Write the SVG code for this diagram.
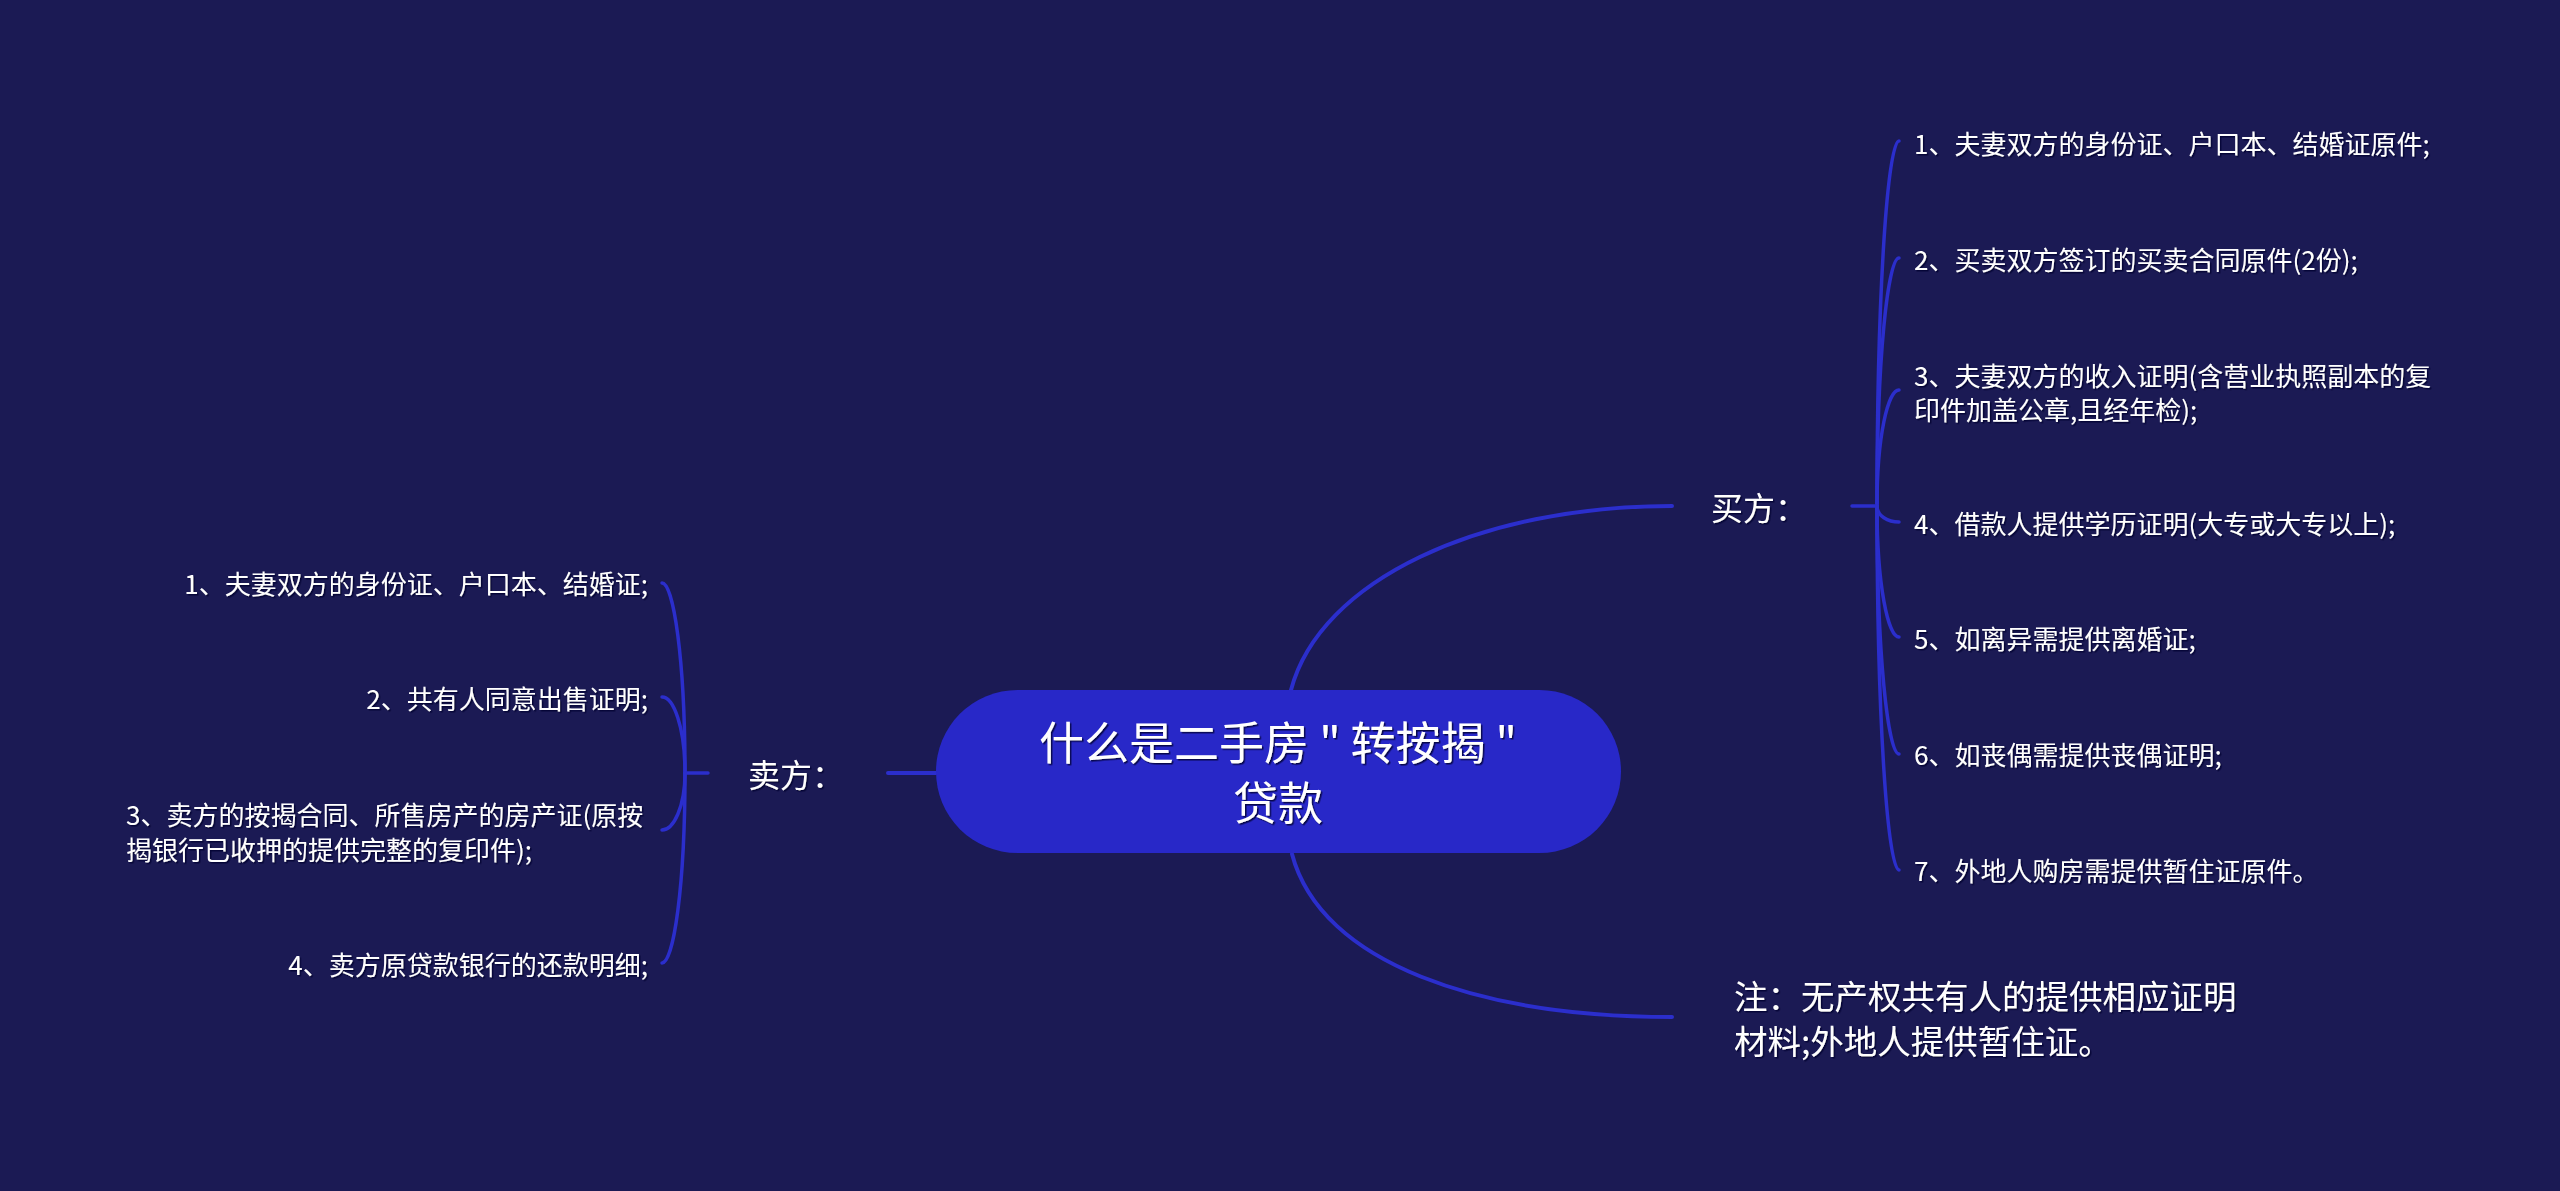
<svg xmlns="http://www.w3.org/2000/svg" width="2560" height="1191" viewBox="0 0 2560 1191">
<defs>
<style>
.bg{fill:#1b1a54}
.root{fill:#2828c8}
.ln{fill:none;stroke:#2b2ecc;stroke-width:4;stroke-linecap:round}
.br{fill:none;stroke:#2b2ecc;stroke-width:3.5;stroke-linecap:round}
text{font-family:"Noto Sans CJK SC","Microsoft YaHei",sans-serif;fill:#ffffff;dominant-baseline:central}
.t0{font-size:45px}
.t1{font-size:32px}
.t2{font-size:26px}
.note{font-size:33.5px}
</style>
<filter id="sh" x="-5%" y="-20%" width="110%" height="140%">
<feDropShadow dx="1.5" dy="1.5" stdDeviation="0.6" flood-color="#000030" flood-opacity="0.8"/>
</filter>
</defs>
<rect class="bg" x="0" y="0" width="2560" height="1191"/>
<g id="connectors">
<path class="ln" d="M1291,690 C1320,580 1480,506 1672,506"/>
<path class="ln" d="M1292,854 C1321,964 1481,1017 1672,1017"/>
<path class="ln" d="M936,773 L888,773"/>
<path class="br" d="M1852,506 L1877,506"/>
<path class="br" d="M1877,506 C1877,287 1888,141 1899,141"/>
<path class="br" d="M1877,506 C1877,357 1888,258 1899,258"/>
<path class="br" d="M1877,506 C1877,436 1888,390 1899,390"/>
<path class="br" d="M1877,506 C1877,516 1888,522 1899,522"/>
<path class="br" d="M1877,506 C1877,585 1888,637 1899,637"/>
<path class="br" d="M1877,506 C1877,655 1888,754 1899,754"/>
<path class="br" d="M1877,506 C1877,724 1888,870 1899,870"/>
<path class="br" d="M708,773 L685,773"/>
<path class="br" d="M685,773 C685,659 673.5,583 662,583"/>
<path class="br" d="M685,773 C685,727 673.5,697 662,697"/>
<path class="br" d="M685,773 C685,807 673.5,830 662,830"/>
<path class="br" d="M685,773 C685,887 673.5,963 662,963"/>
</g>
<g id="root">
<rect class="root" x="936" y="690" width="685" height="163" rx="81.5" ry="81.5"/>
<text class="t0" x="1278" y="740" text-anchor="middle" filter="url(#sh)" xml:space="preserve">什么是二手房 " 转按揭 "</text>
<text class="t0" x="1278" y="800" text-anchor="middle" filter="url(#sh)">贷款</text>
</g>
<g id="buyer">
<text class="t1" x="1711" y="506" filter="url(#sh)">买方：</text>
</g>
<g id="seller">
<text class="t1" x="748" y="773" filter="url(#sh)">卖方：</text>
</g>
<g id="note">
<text class="note" x="1734" y="994" filter="url(#sh)">注：无产权共有人的提供相应证明</text>
<text class="note" x="1734" y="1039" filter="url(#sh)">材料;外地人提供暂住证。</text>
</g>
<g id="b1"><text class="t2" x="1914" y="142" filter="url(#sh)">1、夫妻双方的身份证、户口本、结婚证原件;</text></g>
<g id="b2"><text class="t2" x="1914" y="258" filter="url(#sh)">2、买卖双方签订的买卖合同原件(2份);</text></g>
<g id="b3"><text class="t2" x="1914" y="374" filter="url(#sh)">3、夫妻双方的收入证明(含营业执照副本的复</text><text class="t2" x="1914" y="408" filter="url(#sh)">印件加盖公章,且经年检);</text></g>
<g id="b4"><text class="t2" x="1914" y="522" filter="url(#sh)">4、借款人提供学历证明(大专或大专以上);</text></g>
<g id="b5"><text class="t2" x="1914" y="637" filter="url(#sh)">5、如离异需提供离婚证;</text></g>
<g id="b6"><text class="t2" x="1914" y="753" filter="url(#sh)">6、如丧偶需提供丧偶证明;</text></g>
<g id="b7"><text class="t2" x="1914" y="869" filter="url(#sh)">7、外地人购房需提供暂住证原件。</text></g>
<g id="s1"><text class="t2" x="648" y="582" text-anchor="end" filter="url(#sh)">1、夫妻双方的身份证、户口本、结婚证;</text></g>
<g id="s2"><text class="t2" x="648" y="697" text-anchor="end" filter="url(#sh)">2、共有人同意出售证明;</text></g>
<g id="s3"><text class="t2" x="126" y="813" filter="url(#sh)">3、卖方的按揭合同、所售房产的房产证(原按</text><text class="t2" x="126" y="848" filter="url(#sh)">揭银行已收押的提供完整的复印件);</text></g>
<g id="s4"><text class="t2" x="648" y="963" text-anchor="end" filter="url(#sh)">4、卖方原贷款银行的还款明细;</text></g>
</svg>
